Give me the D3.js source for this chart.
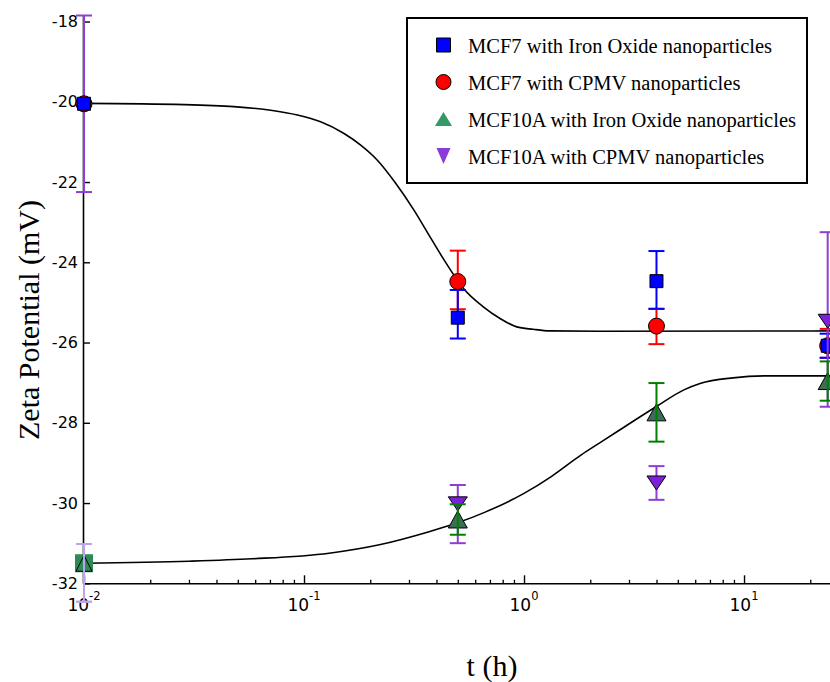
<!DOCTYPE html>
<html>
<head>
<meta charset="utf-8">
<script src="https://cdn.jsdelivr.net/npm/d3@7"></script>
<style>
  html, body { margin: 0; padding: 0; background: #fff; overflow: hidden; }
  svg { display: block; }
</style>
</head>
<body>
<svg id="chart" width="830" height="682"></svg>
<script>
// ---------------- data ----------------
const tHours = [0.01, 0.5, 4, 24];

const seriesNames = [
  "MCF7 with Iron Oxide nanoparticles",
  "MCF7 with CPMV nanoparticles",
  "MCF10A with Iron Oxide nanoparticles",
  "MCF10A with CPMV nanoparticles"
];

const mcf7Iron        = [-20.05, -25.38, -24.47, -26.08];
const mcf7IronErrLo   = [0, 0.52, 0.69, 0.30];
const mcf7IronErrHi   = [0, 0.69, 0.75, 0.30];

const mcf7Cpmv        = [-20.05, -24.48, -25.59, -26.08];
const mcf7CpmvErrLo   = [2.20, 0.69, 0.45, 0.30];
const mcf7CpmvErrHi   = [2.20, 0.77, 0.43, 0.42];

const mcf10aIron      = [-31.50, -30.41, -27.74, -26.96];
const mcf10aIronErrLo = [0, 0.38, 0.73, 0.49];
const mcf10aIronErrHi = [0, 0.38, 0.73, 0.49];

const mcf10aCpmv      = [-31.50, -30.02, -29.50, -25.47];
const mcf10aCpmvErrLo = [0.96, 0.98, 0.42, 2.13];
const mcf10aCpmvErrHi = [0.48, 0.47, 0.42, 2.22];

// fitted curves
const fitUpperT = [0.01, 0.0285, 0.048, 0.0706, 0.0933, 0.119, 0.152, 0.181, 0.215, 0.261, 0.316, 0.377, 0.433, 0.494, 0.53, 0.653, 0.778, 0.927, 1.10, 1.31, 2.2, 26];
const fitUpperV = [-20.04, -20.07, -20.12, -20.21, -20.33, -20.50, -20.79, -21.08, -21.45, -22.03, -22.70, -23.40, -23.94, -24.42, -24.65, -25.11, -25.40, -25.61, -25.67, -25.71, -25.72, -25.71];
const fitLowerT = [0.01, 0.03, 0.058, 0.13, 0.22, 0.367, 0.495, 0.67, 1, 1.33, 1.82, 2.21, 2.72, 3.98, 5.33, 6.31, 8.91, 12.7, 26];
const fitLowerV = [-31.50, -31.45, -31.39, -31.25, -31.04, -30.72, -30.50, -30.22, -29.76, -29.34, -28.80, -28.50, -28.18, -27.60, -27.18, -27.02, -26.88, -26.83, -26.83];

const yTicks = [-32, -30, -28, -26, -24, -22, -20, -18];
const xMajorTicks = [0.01, 0.1, 1, 10];
const xTickExponents = ["-2", "-1", "0", "1"];
const xMinorTicks = [0.02,0.03,0.04,0.05,0.06,0.07,0.08,0.09,0.2,0.3,0.4,0.5,0.6,0.7,0.8,0.9,2,3,4,5,6,7,8,9,20,30];

const yTitle = "Zeta Potential (mV)";
const xTitle = "t (h)";

// ---------------- styles ----------------
const series = [
  { name: seriesNames[0], v: mcf7Iron,   lo: mcf7IronErrLo,   hi: mcf7IronErrHi,   sym: "square", fill: "#0000ff", legendFill: "#0000ff", err: "#0000ff" },
  { name: seriesNames[1], v: mcf7Cpmv,   lo: mcf7CpmvErrLo,   hi: mcf7CpmvErrHi,   sym: "circle", fill: "#ff0000", legendFill: "#ff0000", err: "#ff0000" },
  { name: seriesNames[2], v: mcf10aIron, lo: mcf10aIronErrLo, hi: mcf10aIronErrHi, sym: "up",     fill: "#3d6e55", legendFill: "#339966", err: "#008000" },
  { name: seriesNames[3], v: mcf10aCpmv, lo: mcf10aCpmvErrLo, hi: mcf10aCpmvErrHi, sym: "down",   fill: "#7b22d9", legendFill: "#8b3bd9", err: "#8e3dd6" }
];
// error-bar colour quirks seen in the figure
const errColorOverride = { "1-0": "#8e3dd6", "3-0": "#bca3ee" };

const svg = d3.select("#chart");

const x = d3.scaleLog().domain([0.01, 30]).range([84, 849]);
const y = d3.scaleLinear().domain([-32, -17.85]).range([583.3, 15.5]);

// ---------------- axes ----------------
const axisFont = "'DejaVu Sans', sans-serif";

// x minor ticks
svg.append("g").attr("transform", "translate(0,583.3)")
  .call(d3.axisBottom(x).tickValues(xMinorTicks).tickSizeInner(-3.5).tickSizeOuter(0).tickFormat(""))
  .call(g => g.select(".domain").remove())
  .call(g => g.selectAll("line").attr("stroke", "#000").attr("stroke-width", 1.3));

// x major
const gx = svg.append("g").attr("transform", "translate(0,583.3)")
  .call(d3.axisBottom(x).tickValues(xMajorTicks).tickSizeInner(-8).tickSizeOuter(0).tickFormat(""));
gx.select(".domain").attr("stroke", "#000").attr("stroke-width", 1.6);
gx.selectAll("line").attr("stroke", "#000").attr("stroke-width", 1.4);

const xl = svg.append("g");
xMajorTicks.forEach((t, i) => {
  const tx = xl.append("text")
    .attr("x", x(t)).attr("y", 611)
    .attr("text-anchor", "middle")
    .attr("font-family", axisFont).attr("fill", "#000");
  tx.append("tspan").attr("font-size", 17).text("10");
  tx.append("tspan").attr("font-size", 11.5).attr("dy", -11).text(xTickExponents[i]);
});

// y axis
const gy = svg.append("g").attr("transform", "translate(83,0)")
  .call(d3.axisLeft(y).tickValues(yTicks).tickSizeInner(-7).tickSizeOuter(0).tickPadding(5).tickFormat(d => String(d)));
gy.select(".domain").attr("stroke", "#000").attr("stroke-width", 1.6);
gy.selectAll("line").attr("stroke", "#000").attr("stroke-width", 1.4);
gy.selectAll("text").attr("font-family", axisFont).attr("font-size", 16).attr("fill", "#000");

// titles
svg.append("text")
  .attr("transform", "translate(39,320) rotate(-90)")
  .attr("text-anchor", "middle")
  .attr("font-family", "'Liberation Serif', 'Times New Roman', serif")
  .attr("font-size", 30).attr("fill", "#000")
  .text(yTitle);
svg.append("text")
  .attr("x", 492).attr("y", 676)
  .attr("text-anchor", "middle")
  .attr("font-family", "'Liberation Serif', 'Times New Roman', serif")
  .attr("font-size", 30).attr("fill", "#000")
  .text(xTitle);

// ---------------- fitted curves ----------------
const line = d3.line().x(d => x(d[0])).y(d => y(d[1])).curve(d3.curveMonotoneX);
svg.append("path").datum(d3.zip(fitUpperT, fitUpperV))
  .attr("d", line).attr("fill", "none").attr("stroke", "#000").attr("stroke-width", 1.6);
svg.append("path").datum(d3.zip(fitLowerT, fitLowerV))
  .attr("d", line).attr("fill", "none").attr("stroke", "#000").attr("stroke-width", 1.6);

// ---------------- symbols ----------------
function symbolPath(sym, s) {
  if (sym === "square") return `M${-s.w/2},${-s.h/2}h${s.w}v${s.h}h${-s.w}Z`;
  if (sym === "up") return `M0,${-s.h/2}L${s.w/2},${s.h/2}L${-s.w/2},${s.h/2}Z`;
  if (sym === "down") return `M${-s.w/2},${-s.h/2}L${s.w/2},${-s.h/2}L0,${s.h/2}Z`;
  return null;
}
const plotSize = { square: {w: 13, h: 13}, circle: {r: 8}, up: {w: 19, h: 17}, down: {w: 19, h: 14} };
const legendSize = { square: {w: 14, h: 14}, circle: {r: 7.5}, up: {w: 17, h: 14}, down: {w: 14, h: 16} };

function drawMarker(g, sym, cx, cy, fill, size, stroke) {
  if (sym === "circle") {
    g.append("circle").attr("cx", cx).attr("cy", cy).attr("r", size.r)
      .attr("fill", fill).attr("stroke", stroke ? "#000" : "none").attr("stroke-width", 1);
  } else {
    g.append("path").attr("d", symbolPath(sym, size))
      .attr("transform", `translate(${cx},${cy})`)
      .attr("fill", fill).attr("stroke", stroke ? "#000" : "none").attr("stroke-width", 1);
  }
}

function drawErr(g, si, i) {
  const s = series[si];
  const lo = s.lo[i], hi = s.hi[i];
  if (!(lo > 0 || hi > 0)) return;
  const cx = x(tHours[i]);
  const col = errColorOverride[si + "-" + i] || s.err;
  const y1 = y(s.v[i] + hi), y2 = y(s.v[i] - lo);
  g.append("line").attr("x1", cx).attr("x2", cx).attr("y1", y1).attr("y2", y2)
    .attr("stroke", col).attr("stroke-width", 2);
  [y1, y2].forEach(yy => g.append("line").attr("x1", cx - 8).attr("x2", cx + 8).attr("y1", yy).attr("y2", yy)
    .attr("stroke", col).attr("stroke-width", 2));
}

const gm = svg.append("g");
// MCF7 series: bars then markers (circles under squares)
[1, 0].forEach(si => tHours.forEach((t, i) => drawErr(gm, si, i)));
[1, 0].forEach(si => tHours.forEach((t, i) => {
  const s = series[si];
  drawMarker(gm, s.sym, x(t), y(s.v[i]), s.fill, plotSize[s.sym], true);
}));
// MCF10A CPMV bars + markers
tHours.forEach((t, i) => drawErr(gm, 3, i));
tHours.forEach((t, i) => {
  const s = series[3];
  if (i === 0) return; // hidden under the first MCF10A iron point
  drawMarker(gm, s.sym, x(t), y(s.v[i]), s.fill, plotSize[s.sym], true);
});
// MCF10A iron markers, then its bars
tHours.forEach((t, i) => {
  const s = series[2];
  if (i === 0) {
    gm.append("rect").attr("x", x(t) - 9).attr("y", y(s.v[i]) - 9).attr("width", 18).attr("height", 18)
      .attr("fill", "#2e8b57");
    gm.append("path").attr("d", symbolPath("up", {w: 16, h: 16}))
      .attr("transform", `translate(${x(t)},${y(s.v[i])})`)
      .attr("fill", "none").attr("stroke", "#000").attr("stroke-width", 1);
  } else {
    drawMarker(gm, s.sym, x(t), y(s.v[i]), s.fill, plotSize[s.sym], true);
  }
});
tHours.forEach((t, i) => drawErr(gm, 2, i));
// the lavender bar at the first point sits on top
drawErr(gm, 3, 0);

// ---------------- legend ----------------
const lg = svg.append("g");
lg.append("rect").attr("x", 407).attr("y", 18).attr("width", 400).attr("height", 165)
  .attr("fill", "#fff").attr("stroke", "#000").attr("stroke-width", 2);
const legendRowY = [45, 82, 119, 156];
series.forEach((s, i) => {
  drawMarker(lg, s.sym, 443.5, legendRowY[i], s.legendFill, legendSize[s.sym], s.sym === "square" || s.sym === "circle");
  lg.append("text").attr("x", 468).attr("y", legendRowY[i] + 7.5)
    .attr("font-family", "'Liberation Serif', 'Times New Roman', serif")
    .attr("font-size", 20.5).attr("fill", "#000")
    .text(s.name);
});
</script>
</body>
</html>
